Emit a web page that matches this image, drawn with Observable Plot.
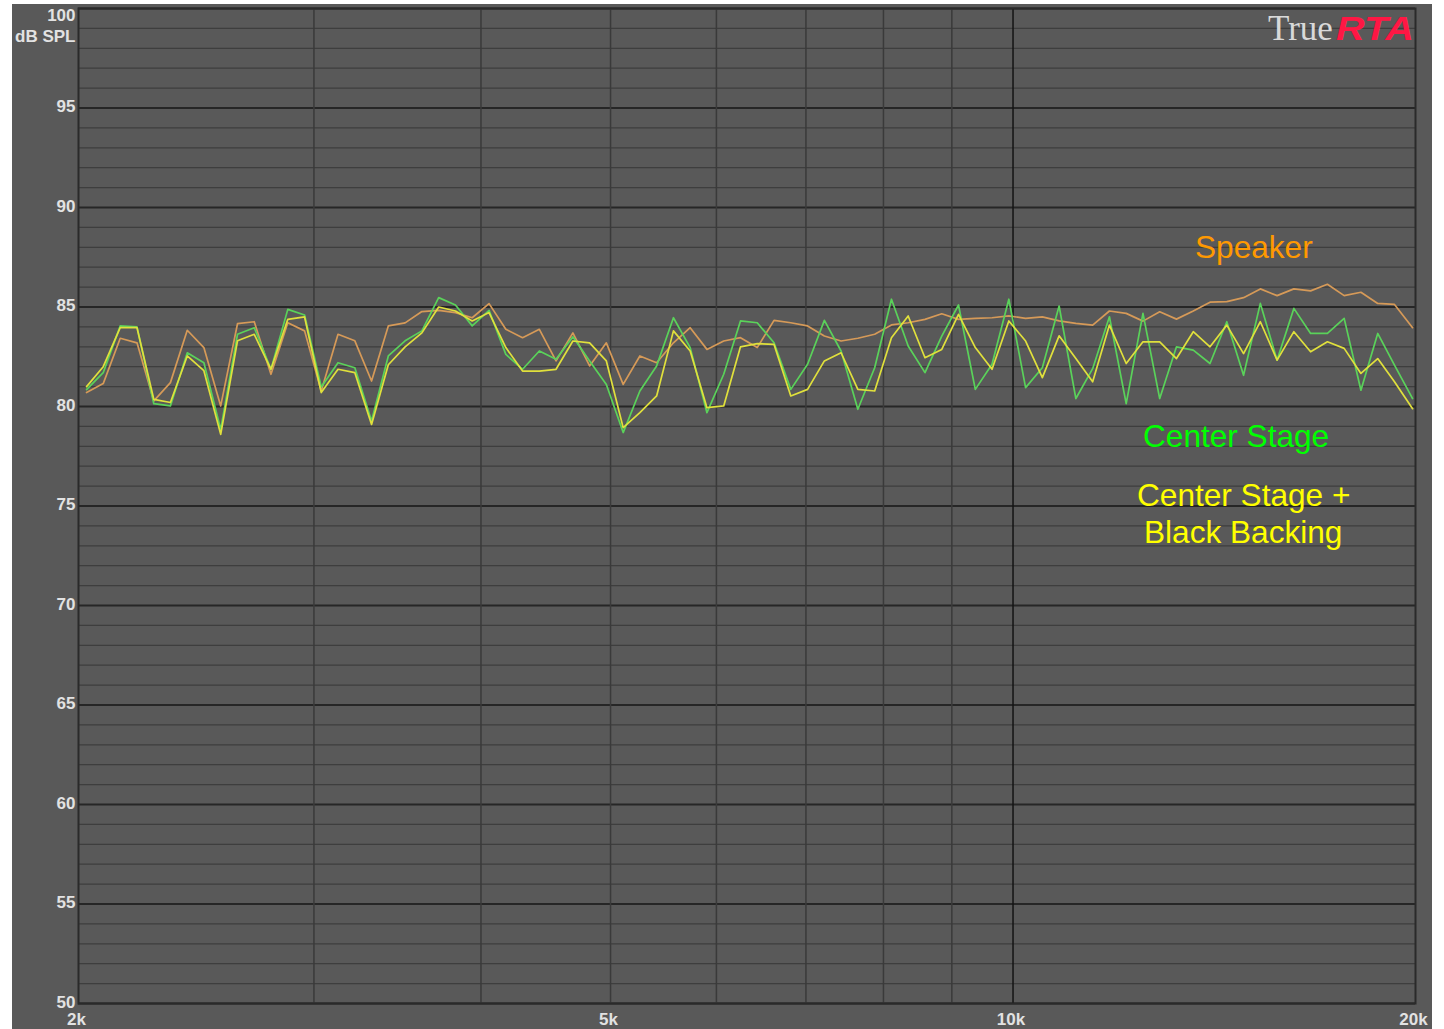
<!DOCTYPE html>
<html>
<head>
<meta charset="utf-8">
<script src="https://cdn.jsdelivr.net/npm/d3@7"></script>
<script src="https://cdn.jsdelivr.net/npm/@observablehq/plot@0.6"></script>
<style>
  html, body { margin: 0; padding: 0; background: #ffffff; }
  #wrap { position: relative; width: 1444px; height: 1029px; overflow: hidden; background: #ffffff; }
  #panel { position: absolute; left: 12px; top: 4px; width: 1420px; height: 1025px; background: #595959; }
  #chart { position: absolute; left: 0; top: 0; }
  .lbl { position: absolute; font-family: "Liberation Sans", Arial, sans-serif; font-size: 31.6px; white-space: nowrap; line-height: 1; }
  #logo { position: absolute; left: 1268px; top: 11px; white-space: nowrap; line-height: 1; }
  #logo .t { font-family: "Liberation Serif", "Times New Roman", serif; font-size: 35px; color: #d9d9d9; }
  #logo .r { display: inline-block; font-family: "Liberation Sans", Arial, sans-serif; font-size: 33px; font-weight: bold; font-style: italic; color: #ff1744; margin-left: 3px; transform: scaleX(1.2); transform-origin: left center; }
</style>
</head>
<body>
<div id="wrap">
  <div id="panel"></div>
  <div id="chart"></div>
  <div id="logo"><span class="t">True</span><span class="r">RTA</span></div>
  <div class="lbl" id="l1" style="color:#ff9900; left:1195px; top:232px;">Speaker</div>
  <div class="lbl" id="l2" style="color:#00ff00; left:1143px; top:421px;">Center Stage</div>
  <div class="lbl" id="l3" style="color:#ffff00; left:1137px; top:480px;">Center Stage +</div>
  <div class="lbl" id="l4" style="color:#ffff00; left:1144px; top:517px;">Black Backing</div>
</div>
<script>
// Frequencies (Hz), 1/24-octave measurement points
const freqs = [2028,2087,2149,2212,2277,2343,2412,2482,2555,2630,
  2707,2786,2868,2952,3038,3127,3219,3313,3410,3510,
  3613,3719,3828,3940,4056,4175,4297,4423,4552,4686,
  4823,4964,5110,5259,5413,5572,5735,5903,6076,6254,
  6437,6626,6820,7020,7226,7437,7655,7880,8111,8348,
  8593,8845,9104,9371,9645,9928,10219,10518,10826,11143,
  11470,11806,12152,12508,12874,13251,13640,14039,14451,14874,
  15310,15758,16220,16695,17185,17688,18206,18740,19289,19900];

// Speaker (orange)
const speaker = [80.70,81.15,83.43,83.2,80.28,81.2,83.83,82.96,80.03,84.16,
  84.26,81.62,84.21,83.8,80.78,83.63,83.3,81.28,84.05,84.2,
  84.77,84.83,84.72,84.46,85.17,83.88,83.46,83.88,82.29,83.7,
  82.04,83.2,81.11,82.54,82.2,83.2,83.96,82.87,83.29,83.46,
  82.96,84.33,84.21,84.05,83.54,83.29,83.43,83.63,84.1,84.21,
  84.38,84.66,84.38,84.43,84.46,84.55,84.43,84.5,84.3,84.18,
  84.09,84.8,84.68,84.29,84.76,84.39,84.8,85.24,85.27,85.47,
  85.91,85.57,85.91,85.81,86.14,85.57,85.74,85.18,85.13,83.96];

// Center Stage (green)
const centerStage = [80.85,81.7,84.05,84.0,80.14,80.03,82.7,82.2,78.85,83.63,
  83.96,81.87,84.88,84.6,80.98,82.2,81.95,79.27,82.54,83.3,
  83.8,85.47,85.1,84.05,84.83,82.62,81.87,82.79,82.37,83.5,
  82.29,81.11,78.69,80.78,82.04,84.46,82.96,79.69,81.62,84.3,
  84.21,83.2,80.86,82.12,84.33,82.79,79.86,81.95,85.39,83.04,
  81.7,83.54,85.1,80.86,82.12,85.39,80.95,81.95,85.05,80.4,
  81.9,84.51,80.14,84.68,80.4,83.0,82.83,82.16,84.26,81.57,
  85.18,82.33,84.93,83.67,83.67,84.43,80.82,83.67,82.08,80.4];

// Center Stage + Black Backing (yellow)
const centerStageBacking = [81.0,82.0,83.96,83.96,80.36,80.2,82.54,81.8,78.6,83.3,
  83.63,81.87,84.38,84.5,80.7,81.87,81.7,79.1,82.1,83.0,
  83.7,85.0,84.8,84.3,84.72,82.96,81.78,81.78,81.87,83.29,
  83.2,82.29,78.94,79.69,80.53,83.8,82.79,79.94,80.03,83.0,
  83.16,83.12,80.53,80.86,82.29,82.7,80.86,80.78,83.46,84.55,
  82.45,82.87,84.63,82.96,81.87,84.3,83.29,81.45,83.55,82.41,
  81.24,84.09,82.16,83.25,83.25,82.41,83.76,83.0,84.09,82.66,
  84.26,82.33,83.76,82.75,83.25,82.92,81.66,82.41,81.24,79.89];

const seriesNames = ["Speaker", "Center Stage", "Center Stage + Black Backing"];
const seriesColors = ["#d69a58", "#5ad25a", "#e0e03c"];

const yMajorTicks = [50,55,60,65,70,75,80,85,90,95,100];
const yMinorGrid = d3.range(51, 100).filter(d => d % 5 !== 0);
const xTicks = [2000, 5000, 10000, 20000];
const xTickLabels = ["2k", "5k", "10k", "20k"];
const xGrid = [3000,4000,5000,6000,7000,8000,9000];
const xGridStrong = [10000];

const rows = [];
const allSeries = [speaker, centerStage, centerStageBacking];
allSeries.forEach((vals, s) => {
  freqs.forEach((f, i) => rows.push({f, db: vals[i], series: seriesNames[s]}));
});

const chart = Plot.plot({
  width: 1444,
  height: 1029,
  marginLeft: 78,
  marginRight: 29,
  marginTop: 8,
  marginBottom: 26,
  style: {background: "transparent", color: "#e2e2e2", fontFamily: "'Liberation Sans', Arial, sans-serif", fontSize: "17px", fontWeight: "bold"},
  x: {type: "log", domain: [2000, 20000]},
  y: {domain: [50, 100]},
  color: {domain: seriesNames, range: seriesColors},
  marks: [
    Plot.ruleY(yMinorGrid, {stroke: "#3e3e3e", strokeWidth: 1.2}),
    Plot.ruleY(yMajorTicks, {stroke: "#262626", strokeWidth: 2}),
    Plot.ruleX(xGrid, {stroke: "#3a3a3a", strokeWidth: 1.5}),
    Plot.ruleX(xGridStrong, {stroke: "#141414", strokeWidth: 1.5}),
    Plot.line(rows, {x: "f", y: "db", z: "series", stroke: "series", strokeWidth: 1.7}),
    Plot.frame({stroke: "#2a2a2a", strokeWidth: 2}),
    Plot.axisX(xTicks, {tickSize: 0, tickPadding: 9, dx: -2, tickFormat: d => xTickLabels[xTicks.indexOf(d)], label: null, fontWeight: "bold", fontSize: 17}),
    Plot.axisY(yMajorTicks.filter(d => d < 100), {tickSize: 0, tickPadding: 3, dy: -1, label: null, fontWeight: "bold", fontSize: 17}),
    Plot.axisY([100], {tickSize: 0, tickPadding: 3, dy: 7, label: null, fontWeight: "bold", fontSize: 17}),
    Plot.text(["dB SPL"], {frameAnchor: "top-left", textAnchor: "end", dx: -3, dy: 21, fill: "#e2e2e2", fontWeight: "bold", fontSize: 17})
  ]
});
document.getElementById("chart").appendChild(chart);
</script>
</body>
</html>
